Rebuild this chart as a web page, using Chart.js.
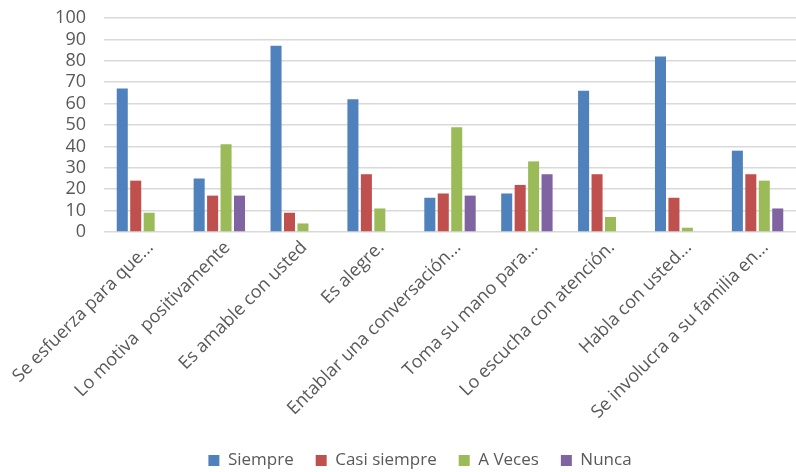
<!DOCTYPE html>
<html>
<head>
<meta charset="utf-8">
<script src="https://cdn.jsdelivr.net/npm/chart.js@4/dist/chart.umd.min.js"></script>
<style>
  html, body { margin: 0; padding: 0; background: #fff; }
  #wrap { width: 796px; height: 472px; }
</style>
</head>
<body>
<div id="wrap"><canvas id="myChart" width="796" height="472"></canvas></div>
<script>
  // Categories and answers per frequency
  const categories = [
    'Se esfuerza para que...',
    'Lo motiva  positivamente',
    'Es amable con usted',
    'Es alegre.',
    'Entablar una conversación...',
    'Toma su mano para...',
    'Lo escucha con atención.',
    'Habla con usted...',
    'Se involucra a su familia en...'
  ];
  const siempre = [67, 25, 87, 62, 16, 18, 66, 82, 38];
  const casiSiempre = [24, 17, 9, 27, 18, 22, 27, 16, 27];
  const aVeces = [9, 41, 4, 11, 49, 33, 7, 2, 24];
  const nunca = [0, 17, 0, 0, 17, 27, 0, 0, 11];
  const yTicks = [0, 10, 20, 30, 40, 50, 60, 70, 80, 90, 100];

  const textColor = '#595959';
  const fontFamily = "'Open Sans', 'Noto Sans', sans-serif";

  // nudge the legend to the right and down a little
  const legendShift = {
    id: 'legendShift',
    afterLayout(chart) {
      chart.legend.left += 44;
      chart.legend.top += 7;
    }
  };

  const ctx = document.getElementById('myChart').getContext('2d');
  const myChart = new Chart(ctx, {
    type: 'bar',
    data: {
      labels: categories,
      datasets: [
        { label: 'Siempre', data: siempre, backgroundColor: '#4F81BD' },
        { label: 'Casi siempre', data: casiSiempre, backgroundColor: '#C0504D' },
        { label: 'A Veces', data: aVeces, backgroundColor: '#9BBB59' },
        { label: 'Nunca', data: nunca, backgroundColor: '#8064A2' }
      ]
    },
    plugins: [legendShift],
    options: {
      responsive: false,
      animation: false,
      datasets: {
        bar: { categoryPercentage: 0.7, barPercentage: 0.82 }
      },
      layout: { padding: { top: 0, right: 0, bottom: 0, left: 0 } },
      plugins: {
        tooltip: { enabled: false },
        legend: {
          position: 'bottom',
          labels: {
            color: textColor,
            font: { family: fontFamily, size: 17 },
            boxWidth: 11,
            boxHeight: 11,
            padding: 22
          }
        }
      },
      scales: {
        x: {
          grid: { display: false, drawTicks: false },
          border: { display: false },
          afterFit: (scale) => {
            scale.height = 191;
            scale.paddingLeft = 0;
            scale.paddingRight = 0;
          },
          ticks: {
            color: textColor,
            font: { family: fontFamily, size: 18 },
            maxRotation: 45,
            minRotation: 45,
            autoSkip: false,
            labelOffset: 8,
            padding: 5
          }
        },
        y: {
          min: 0,
          max: 100,
          afterBuildTicks: (scale) => { scale.ticks = yTicks.map(v => ({ value: v })); },
          afterFit: (scale) => { scale.width = 104; scale.paddingTop = 18; },
          grid: { color: '#d9d9d9', lineWidth: 1.5, drawTicks: false },
          border: { display: false },
          ticks: {
            color: textColor,
            font: { family: fontFamily, size: 18 },
            autoSkip: false,
            padding: 18
          }
        }
      }
    }
  });
</script>
</body>
</html>
